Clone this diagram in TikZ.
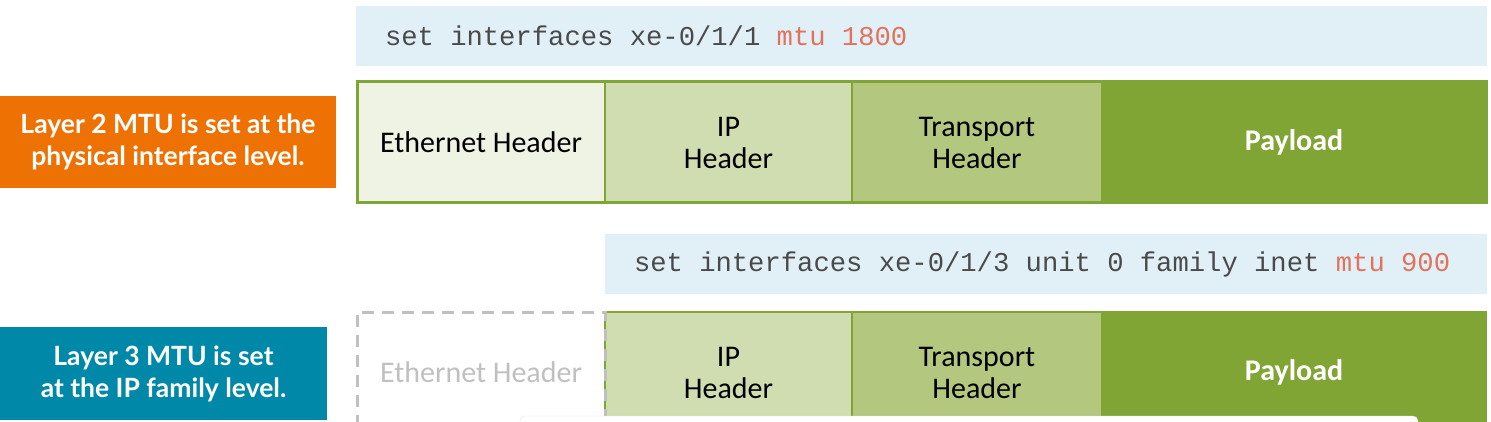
\documentclass[tikz,border=0pt]{standalone}
\usepackage{fontspec}
\setmainfont{Carlito}
\newfontfamily\labelfont{Lato}
\newfontfamily\codefont{Liberation Mono}
\usetikzlibrary{positioning}

\definecolor{codebg}{HTML}{E1F0F7}
\definecolor{codetext}{HTML}{4A4A4A}
\definecolor{codered}{HTML}{E2725B}
\definecolor{framegreen}{HTML}{7FA535}
\definecolor{ethfill}{HTML}{EFF3E4}
\definecolor{ipfill}{HTML}{D0DDB0}
\definecolor{tpfill}{HTML}{B3C77F}
\definecolor{payfill}{HTML}{80A534}
\definecolor{ltwoorange}{HTML}{EE7203}
\definecolor{lthreeteal}{HTML}{0088A8}
\definecolor{ghostgray}{HTML}{C0C0C0}

% full-width space for the command text
\newcommand{\csp}{\hspace*{0.6em}}

\begin{document}
\begin{tikzpicture}[x=1pt, y=-1pt,
    cell/.style={draw=framegreen, line width=2.5pt, minimum height=121pt, inner sep=0pt, outer sep=0pt,
        align=center, font=\fontsize{30}{32}\selectfont},
    labelbox/.style={text=white, align=center, inner sep=0pt, outer sep=0pt,
        font=\labelfont\bfseries\fontsize{26.5}{32}\selectfont},
    codebox/.style={fill=codebg, minimum height=60pt, inner xsep=29pt, inner ysep=0pt, outer sep=0pt,
        align=left, text=codetext, font=\codefont\fontsize{27.2}{30}\selectfont}]
        \useasboundingbox (0,0) rectangle (1491,422);

        % command for the physical interface
        \node[codebox, anchor=north west, text width=1073pt] (cmdone) at (356,6)
            {set\csp interfaces\csp xe-0/1/1\csp\textcolor{codered}{mtu\csp 1800}};

        % layer 2 frame
        \node[cell, fill=ethfill, minimum width=248pt, anchor=north west] (eth1) at (357,82) {Ethernet Header};
        \node[cell, fill=ipfill, minimum width=247pt, right=0pt of eth1] (ip1) {IP\\Header};
        \node[cell, fill=tpfill, minimum width=250pt, right=0pt of ip1] (tp1) {Transport\\Header};
        \node[cell, fill=payfill, draw=payfill, minimum width=384pt, right=0pt of tp1, text=white,
            font=\bfseries\fontsize{30}{32}\selectfont] (pay1) {Payload};
        \draw[framegreen, line width=3pt] (eth1.north west) rectangle (pay1.south east);

        \node[labelbox, fill=ltwoorange, minimum width=336pt, minimum height=92pt, anchor=north west] (ltwo) at (0,96)
            {Layer 2 MTU is set at the\\physical interface level.};

        % layer 3 frame
        \node[cell, fill=ipfill, minimum width=247pt, below=109pt of ip1] (ip2) {IP\\Header};
        \node[cell, fill=tpfill, minimum width=250pt, right=0pt of ip2] (tp2) {Transport\\Header};
        \node[cell, fill=payfill, minimum width=384pt, right=0pt of tp2, text=white,
            font=\bfseries\fontsize{30}{32}\selectfont] (pay2) {Payload};
        \node[cell, draw=ghostgray, line width=3pt, dash pattern=on 12pt off 8pt, text=ghostgray, minimum width=248pt,
            left=0pt of ip2] (eth2) {Ethernet Header};

        % command for the IP family
        \node[codebox, anchor=south west, text width=824pt] (cmdtwo) at ([yshift=18pt]ip2.north west)
            {set\csp interfaces\csp xe-0/1/3\csp unit\csp 0\csp family\csp inet\csp\textcolor{codered}{mtu\csp 900}};

        \node[labelbox, fill=lthreeteal, minimum width=327pt, minimum height=93pt, anchor=north west] (lthree) at (0,327)
            {Layer 3 MTU is set\\at the IP family level.};

        \draw[draw=black!10, fill=white, rounded corners=5pt] (520,416) rectangle (1418,445);
\end{tikzpicture}
\end{document}
